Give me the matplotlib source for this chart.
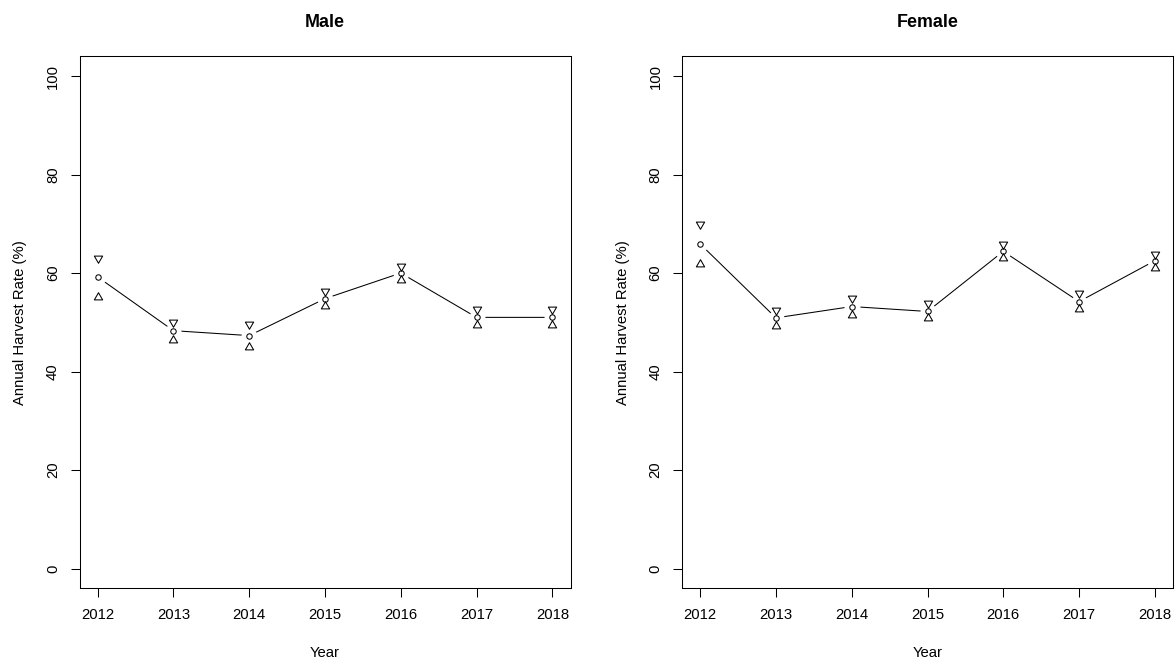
import matplotlib
matplotlib.use("Agg")
import matplotlib.pyplot as plt
from matplotlib.path import Path

plt.rcParams['font.family'] = ['Liberation Sans', 'DejaVu Sans']

years = [2012, 2013, 2014, 2015, 2016, 2017, 2018]

male_mean = [59.2, 48.3, 47.3, 54.8, 60.0, 51.0, 51.0]
male_upper = [63.1, 50.0, 49.6, 56.3, 61.5, 52.6, 52.6]
male_lower = [55.2, 46.5, 45.0, 53.3, 58.6, 49.4, 49.4]

female_mean = [65.9, 50.9, 53.2, 52.2, 64.4, 54.2, 62.5]
female_upper = [70.0, 52.5, 54.9, 53.9, 65.9, 55.9, 63.9]
female_lower = [61.8, 49.3, 51.4, 50.8, 63.0, 52.6, 61.1]

y_ticks = [0, 20, 40, 60, 80, 100]

# R-style open triangles (centred on their centroid)
tri_up = Path([(0, 1), (-0.866, -0.5), (0.866, -0.5), (0, 1)],
              [Path.MOVETO, Path.LINETO, Path.LINETO, Path.CLOSEPOLY])
tri_down = Path([(0, -1), (-0.866, 0.5), (0.866, 0.5), (0, -1)],
                [Path.MOVETO, Path.LINETO, Path.LINETO, Path.CLOSEPOLY])

W, H = 1175, 662
fig = plt.figure(figsize=(W / 100, H / 100), dpi=100)

FS = 10.7
lw = 0.75

panels = [
    ("Male", male_mean, male_upper, male_lower, 79.5),
    ("Female", female_mean, female_upper, female_lower, 682.0),
]

for title, mean, upper, lower, left_px in panels:
    ax = fig.add_axes([left_px / W, 1 - 588.3 / H, 491 / W, (588.3 - 56.3) / H])
    ax.set_xlim(2012 - 0.24, 2018 + 0.24)
    ax.set_ylim(-4, 104)

    # connecting line with gaps around points (type="b")
    ax.plot(years, mean, color='black', lw=lw, zorder=2)
    ax.plot(years, mean, linestyle='none', marker='o', markersize=11.5,
            markerfacecolor='white', markeredgecolor='none', zorder=3)
    ax.plot(years, mean, linestyle='none', marker='o', markersize=3.9,
            markerfacecolor='white', markeredgecolor='black',
            markeredgewidth=lw, zorder=4)
    ax.plot(years, upper, linestyle='none', marker=tri_down, markersize=6.9,
            markerfacecolor='none', markeredgecolor='black',
            markeredgewidth=lw, zorder=4)
    ax.plot(years, lower, linestyle='none', marker=tri_up, markersize=6.9,
            markerfacecolor='none', markeredgecolor='black',
            markeredgewidth=lw, zorder=4)

    ax.set_xticks(years)
    ax.set_xticklabels([str(y) for y in years])
    ax.set_yticks(y_ticks)
    ax.set_yticklabels([str(v) for v in y_ticks], rotation=90, va='center')
    ax.tick_params(axis='both', direction='out', length=6.5, width=lw,
                   labelsize=FS, pad=7.6, colors='black')
    for s in ax.spines.values():
        s.set_linewidth(lw)
        s.set_color('black')

    cx = (left_px + 491 / 2) / W
    fig.text(cx, 1 - 22.6 / H, title, ha='center', va='center',
             fontsize=FS * 1.2, fontweight='bold')
    fig.text(cx, 1 - 652.8 / H, "Year", ha='center', va='center', fontsize=FS)
    fig.text((left_px - 59.5) / W, 1 - 322.5 / H, "Annual Harvest Rate (%)",
             ha='center', va='center', rotation=90, fontsize=FS)

fig.savefig("out.png", dpi=100)
